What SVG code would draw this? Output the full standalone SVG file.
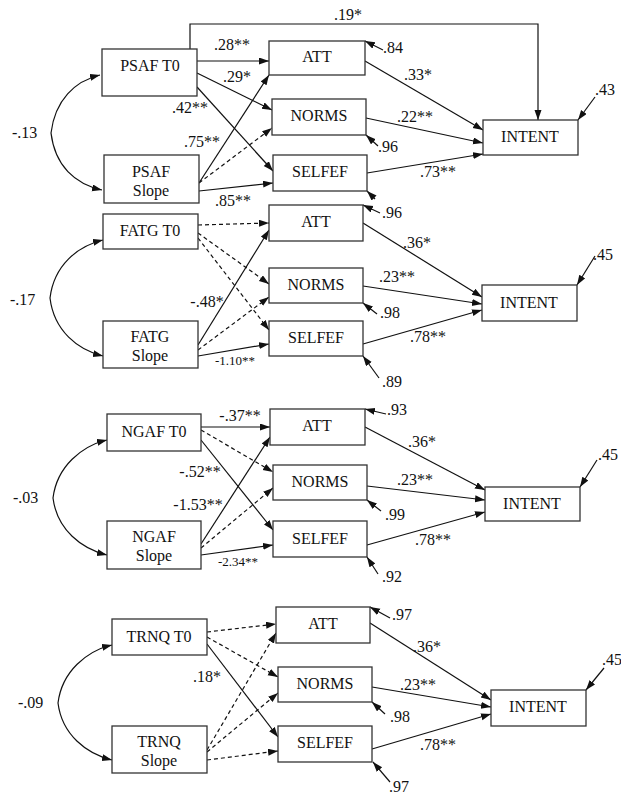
<svg xmlns="http://www.w3.org/2000/svg" width="621" height="798" viewBox="0 0 621 798">
<defs>
<marker id="ah" markerUnits="userSpaceOnUse" markerWidth="11" markerHeight="8" refX="10" refY="3.5" orient="auto">
<path d="M0,0 L10,3.5 L0,7 z" fill="#111"/>
</marker>
</defs>
<style>
.box{fill:#fff;stroke:#333;stroke-width:1.3}
text{font-family:"Liberation Serif","Times New Roman",serif;font-size:16px;fill:#111}
.c{text-anchor:middle}
.sm{font-size:13px}
.ln{fill:none;stroke:#111;stroke-width:1.2;marker-end:url(#ah)}
.ds{stroke-dasharray:4,3}
.cv{fill:none;stroke:#111;stroke-width:1.2;marker-start:url(#ahs);marker-end:url(#ah)}
</style>
<defs>
<marker id="ahs" markerUnits="userSpaceOnUse" markerWidth="11" markerHeight="8" refX="10" refY="3.5" orient="auto-start-reverse">
<path d="M0,0 L10,3.5 L0,7 z" fill="#111"/>
</marker>
</defs>
<rect width="621" height="798" fill="#fff"/>
<g id="connectors">
<!-- Panel 1 -->
<path class="ln" d="M190,49 V24 H538 V120"/>
<path class="ln" d="M197,61 L269,61"/>
<path class="ln" d="M197,73 L272,110"/>
<path class="ln" d="M197,87 L273,171"/>
<path class="ln" d="M199,183 L269,75"/>
<path class="ln ds" d="M199,183 L272,128"/>
<path class="ln" d="M199,191 L273,183"/>
<path class="ln" d="M365,61 L483,130"/>
<path class="ln" d="M366,118 L483,143"/>
<path class="ln" d="M367,173 L483,154"/>
<path class="ln" d="M383,50 L365,41"/>
<path class="ln" d="M378,146 L366,135"/>
<path class="ln" d="M375,199 L367,191"/>
<path class="ln" d="M595,97 L578,120"/>
<path class="cv" d="M100,75 C75,81 55,100 51,133 C55,166 75,184 102,190"/>
<!-- Panel 2 -->
<path class="ln ds" d="M198,225 L269,223"/>
<path class="ln ds" d="M198,233 L269,284"/>
<path class="ln ds" d="M198,238 L269,330"/>
<path class="ln" d="M198,345 L269,230"/>
<path class="ln ds" d="M198,350 L269,297"/>
<path class="ln" d="M198,356 L269,344"/>
<path class="ln" d="M363,223 L482,297"/>
<path class="ln" d="M363,286 L482,304"/>
<path class="ln" d="M363,344 L482,310"/>
<path class="ln" d="M380,213 L363,205"/>
<path class="ln" d="M377,314 L363,303"/>
<path class="ln" d="M379,378 L363,356"/>
<path class="ln" d="M595,256 L577,285"/>
<path class="cv" d="M103,240 C78,246 54,265 50,298 C54,331 78,350 103,356"/>
<!-- Panel 3 -->
<path class="ln" d="M201,427 L270,427"/>
<path class="ln ds" d="M201,430 L273,472"/>
<path class="ln" d="M201,440 L273,530"/>
<path class="ln" d="M201,544 L270,437"/>
<path class="ln ds" d="M201,548 L273,488"/>
<path class="ln" d="M201,555 L273,545"/>
<path class="ln" d="M365,427 L485,490"/>
<path class="ln" d="M367,486 L485,500"/>
<path class="ln" d="M367,545 L485,512"/>
<path class="ln" d="M386,414 L365,409"/>
<path class="ln" d="M381,511 L367,500"/>
<path class="ln" d="M378,574 L367,557"/>
<path class="ln" d="M597,460 L580,487"/>
<path class="cv" d="M107,440 C82,446 57,466 53,498 C57,530 82,549 107,555"/>
<!-- Panel 4 -->
<path class="ln ds" d="M207,632 L276,624"/>
<path class="ln ds" d="M207,637 L278,677"/>
<path class="ln" d="M207,644 L278,737"/>
<path class="ln ds" d="M207,750 L276,633"/>
<path class="ln ds" d="M207,752 L278,693"/>
<path class="ln ds" d="M207,760 L278,751"/>
<path class="ln" d="M370,623 L491,700"/>
<path class="ln" d="M372,687 L491,707"/>
<path class="ln" d="M372,749 L491,714"/>
<path class="ln" d="M390,618 L370,607"/>
<path class="ln" d="M385,714 L372,702"/>
<path class="ln" d="M390,782 L373,762"/>
<path class="ln" d="M604,668 L586,690"/>
<path class="cv" d="M112,645 C87,651 62,671 58,703 C62,735 87,754 112,760"/>
</g>
<g id="labels">
<text class="c" x="348" y="20">.19*</text>
<text class="c" x="232" y="50">.28**</text>
<text class="c" x="237" y="82">.29*</text>
<text class="c" x="190" y="113">.42**</text>
<text class="c" x="202" y="147">.75**</text>
<text class="c" x="233" y="206">.85**</text>
<text class="c" x="418" y="80">.33*</text>
<text class="c" x="415" y="122">.22**</text>
<text class="c" x="438" y="177">.73**</text>
<text x="383" y="53">.84</text>
<text x="378" y="152">.96</text>
<text x="595" y="95">.43</text>
<text x="12" y="138">-.13</text>
<text class="c" x="207" y="307">-.48*</text>
<text class="c sm" x="235" y="365">-1.10**</text>
<text class="c" x="417" y="248">.36*</text>
<text class="c" x="397" y="282">.23**</text>
<text class="c" x="428" y="342">.78**</text>
<text x="382" y="218">.96</text>
<text x="380" y="318">.98</text>
<text x="382" y="387">.89</text>
<text x="593" y="260">.45</text>
<text x="10" y="305">-.17</text>
<text class="c" x="240" y="421">-.37**</text>
<text class="c" x="200" y="477">-.52**</text>
<text class="c" x="198" y="510">-1.53**</text>
<text class="c sm" x="238" y="566">-2.34**</text>
<text class="c" x="422" y="447">.36*</text>
<text class="c" x="415" y="485">.23**</text>
<text class="c" x="433" y="545">.78**</text>
<text x="387" y="415">.93</text>
<text x="385" y="520">.99</text>
<text x="382" y="582">.92</text>
<text x="598" y="460">.45</text>
<text x="13" y="503">-.03</text>
<text class="c" x="207" y="682">.18*</text>
<text class="c" x="427" y="652">.36*</text>
<text class="c" x="418" y="690">.23**</text>
<text class="c" x="438" y="750">.78**</text>
<text x="392" y="620">.97</text>
<text x="390" y="722">.98</text>
<text x="389" y="792">.97</text>
<text x="602" y="665">.45</text>
<text x="18" y="708">-.09</text>
</g>
<g id="psaf-t0"><rect class="box" x="102" y="49" width="95" height="47"/><text class="c" x="150" y="71">PSAF T0</text></g>
<g id="psaf-slope"><rect class="box" x="104" y="155" width="95" height="48"/><text class="c" x="151" y="177">PSAF</text><text class="c" x="151" y="196">Slope</text></g>
<g id="att-1"><rect class="box" x="269" y="41" width="96" height="34"/><text class="c" x="317" y="62">ATT</text></g>
<g id="norms-1"><rect class="box" x="272" y="99" width="94" height="36"/><text class="c" x="319" y="121">NORMS</text></g>
<g id="selfef-1"><rect class="box" x="273" y="155" width="94" height="36"/><text class="c" x="320" y="177">SELFEF</text></g>
<g id="intent-1"><rect class="box" x="483" y="120" width="95" height="35"/><text class="c" x="530" y="142">INTENT</text></g>

<g id="fatg-t0"><rect class="box" x="103" y="214" width="95" height="35"/><text class="c" x="150" y="236">FATG T0</text></g>
<g id="fatg-slope"><rect class="box" x="103" y="321" width="95" height="47"/><text class="c" x="150" y="342">FATG</text><text class="c" x="150" y="361">Slope</text></g>
<g id="att-2"><rect class="box" x="269" y="205" width="94" height="36"/><text class="c" x="316" y="227">ATT</text></g>
<g id="norms-2"><rect class="box" x="269" y="268" width="94" height="35"/><text class="c" x="316" y="290">NORMS</text></g>
<g id="selfef-2"><rect class="box" x="269" y="321" width="94" height="35"/><text class="c" x="316" y="343">SELFEF</text></g>
<g id="intent-2"><rect class="box" x="482" y="285" width="95" height="36"/><text class="c" x="529" y="308">INTENT</text></g>

<g id="ngaf-t0"><rect class="box" x="107" y="414" width="94" height="37"/><text class="c" x="154" y="437">NGAF T0</text></g>
<g id="ngaf-slope"><rect class="box" x="107" y="521" width="94" height="48"/><text class="c" x="154" y="542">NGAF</text><text class="c" x="154" y="561">Slope</text></g>
<g id="att-3"><rect class="box" x="270" y="409" width="95" height="36"/><text class="c" x="317" y="431">ATT</text></g>
<g id="norms-3"><rect class="box" x="273" y="465" width="94" height="35"/><text class="c" x="320" y="487">NORMS</text></g>
<g id="selfef-3"><rect class="box" x="273" y="521" width="94" height="36"/><text class="c" x="320" y="544">SELFEF</text></g>
<g id="intent-3"><rect class="box" x="485" y="487" width="95" height="34"/><text class="c" x="532" y="509">INTENT</text></g>

<g id="trnq-t0"><rect class="box" x="112" y="619" width="95" height="36"/><text class="c" x="159" y="642">TRNQ T0</text></g>
<g id="trnq-slope"><rect class="box" x="112" y="726" width="95" height="47"/><text class="c" x="159" y="747">TRNQ</text><text class="c" x="159" y="766">Slope</text></g>
<g id="att-4"><rect class="box" x="276" y="607" width="94" height="36"/><text class="c" x="323" y="629">ATT</text></g>
<g id="norms-4"><rect class="box" x="278" y="667" width="94" height="35"/><text class="c" x="325" y="689">NORMS</text></g>
<g id="selfef-4"><rect class="box" x="278" y="726" width="94" height="36"/><text class="c" x="325" y="748">SELFEF</text></g>
<g id="intent-4"><rect class="box" x="491" y="690" width="95" height="36"/><text class="c" x="538" y="712">INTENT</text></g>
</svg>
